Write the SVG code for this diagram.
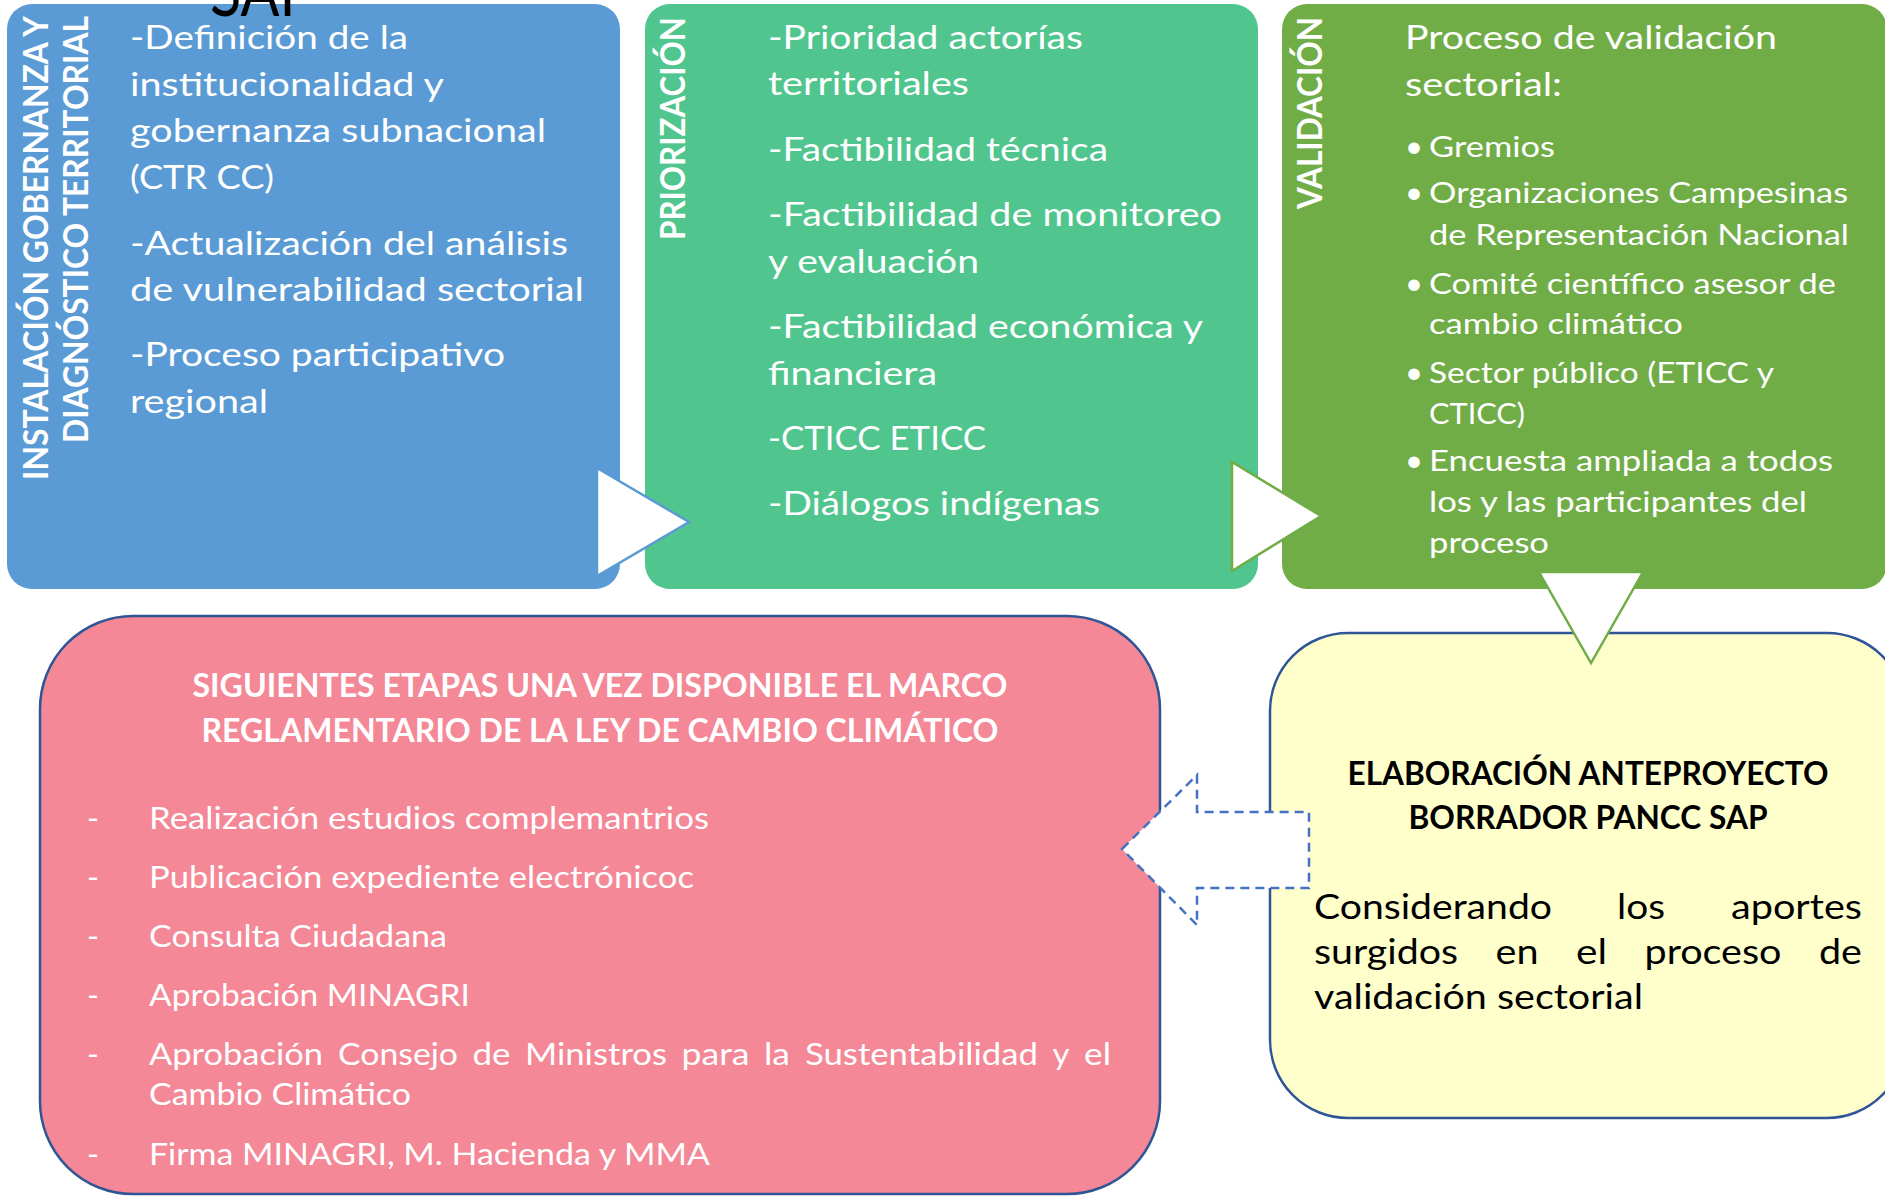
<svg xmlns="http://www.w3.org/2000/svg" width="1885" height="1197" viewBox="0 0 1885 1197">
<style>
  text { font-family: Lato, "Open Sans", "Noto Sans", sans-serif; }
  .w { fill: #ffffff; }
  .k { fill: #000000; }
  .bd { font-weight: bold; }
  .f32 { font-size: 32px; }
  .f28 { font-size: 28px; }
  .f30 { font-size: 30px; }
  .f35 { font-size: 35px; }
  .v34 { font-size: 34px; font-weight: bold; fill: #ffffff; }
  .tri { fill: #ffffff; stroke-width: 2.5; stroke-linejoin: miter; }
  .frame { stroke: #2f5597; stroke-width: 2.5; }
</style>
<rect width="1885" height="1197" fill="#ffffff"/>

<g id="node-instalacion">
  <rect x="7" y="4" width="613" height="585" rx="25" fill="#5b9bd5"/>
  <text class="v34" transform="translate(48,480) rotate(-90)" textLength="464" lengthAdjust="spacingAndGlyphs">INSTALACIÓN GOBERNANZA Y</text>
  <text class="v34" transform="translate(88,443) rotate(-90)" textLength="427" lengthAdjust="spacingAndGlyphs">DIAGNÓSTICO TERRITORIAL</text>
  <g class="w f32">
    <text x="130" y="49" textLength="278" lengthAdjust="spacingAndGlyphs">-Definición de la</text>
    <text x="130" y="96" textLength="314" lengthAdjust="spacingAndGlyphs">institucionalidad y</text>
    <text x="130" y="142" textLength="416" lengthAdjust="spacingAndGlyphs">gobernanza subnacional</text>
    <text x="130" y="189" textLength="144" lengthAdjust="spacingAndGlyphs">(CTR CC)</text>
    <text x="130" y="255" textLength="438" lengthAdjust="spacingAndGlyphs">-Actualización del análisis</text>
    <text x="130" y="301" textLength="454" lengthAdjust="spacingAndGlyphs">de vulnerabilidad sectorial</text>
    <text x="130" y="366" textLength="375" lengthAdjust="spacingAndGlyphs">-Proceso participativo</text>
    <text x="130" y="413" textLength="138" lengthAdjust="spacingAndGlyphs">regional</text>
  </g>
</g>

<g id="node-priorizacion">
  <rect x="645" y="4" width="613" height="585" rx="25" fill="#50c58d"/>
  <text class="v34" transform="translate(685,240) rotate(-90)" textLength="223" lengthAdjust="spacingAndGlyphs">PRIORIZACIÓN</text>
  <g class="w f32">
    <text x="768" y="49" textLength="315" lengthAdjust="spacingAndGlyphs">-Prioridad actorías</text>
    <text x="768" y="95" textLength="201" lengthAdjust="spacingAndGlyphs">territoriales</text>
    <text x="768" y="161" textLength="340" lengthAdjust="spacingAndGlyphs">-Factibilidad técnica</text>
    <text x="768" y="226" textLength="454" lengthAdjust="spacingAndGlyphs">-Factibilidad de monitoreo</text>
    <text x="768" y="273" textLength="211" lengthAdjust="spacingAndGlyphs">y evaluación</text>
    <text x="768" y="338" textLength="435" lengthAdjust="spacingAndGlyphs">-Factibilidad económica y</text>
    <text x="768" y="385" textLength="169" lengthAdjust="spacingAndGlyphs">financiera</text>
    <text x="768" y="450" textLength="218" lengthAdjust="spacingAndGlyphs">-CTICC ETICC</text>
    <text x="768" y="515" textLength="332" lengthAdjust="spacingAndGlyphs">-Diálogos indígenas</text>
  </g>
</g>

<g id="node-validacion">
  <rect x="1282" y="4" width="605" height="585" rx="25" fill="#70ad47"/>
  <text class="v34" transform="translate(1322,209) rotate(-90)" textLength="192" lengthAdjust="spacingAndGlyphs">VALIDACIÓN</text>
  <g class="w f32">
    <text x="1405" y="49" textLength="372" lengthAdjust="spacingAndGlyphs">Proceso de validación</text>
    <text x="1405" y="96" textLength="157" lengthAdjust="spacingAndGlyphs">sectorial:</text>
  </g>
  <g class="w f28">
    <text x="1405" y="157" font-size="31">•</text>
    <text x="1405" y="203" font-size="31">•</text>
    <text x="1405" y="294" font-size="31">•</text>
    <text x="1405" y="383" font-size="31">•</text>
    <text x="1405" y="471" font-size="31">•</text>
    <text x="1429" y="157" textLength="126" lengthAdjust="spacingAndGlyphs">Gremios</text>
    <text x="1429" y="203" textLength="419" lengthAdjust="spacingAndGlyphs">Organizaciones Campesinas</text>
    <text x="1429" y="245" textLength="420" lengthAdjust="spacingAndGlyphs">de Representación Nacional</text>
    <text x="1429" y="294" textLength="407" lengthAdjust="spacingAndGlyphs">Comité científico asesor de</text>
    <text x="1429" y="334" textLength="254" lengthAdjust="spacingAndGlyphs">cambio climático</text>
    <text x="1429" y="383" textLength="345" lengthAdjust="spacingAndGlyphs">Sector público (ETICC y</text>
    <text x="1429" y="424" textLength="96" lengthAdjust="spacingAndGlyphs">CTICC)</text>
    <text x="1429" y="471" textLength="404" lengthAdjust="spacingAndGlyphs">Encuesta ampliada a todos</text>
    <text x="1429" y="512" textLength="378" lengthAdjust="spacingAndGlyphs">los y las participantes del</text>
    <text x="1429" y="553" textLength="120" lengthAdjust="spacingAndGlyphs">proceso</text>
  </g>
</g>

<g id="node-siguientes">
  <rect class="frame" x="40" y="616" width="1120" height="578" rx="93" fill="#f48897"/>
  <g class="w f32 bd" text-anchor="middle">
    <text x="600" y="697" textLength="815" lengthAdjust="spacingAndGlyphs">SIGUIENTES ETAPAS UNA VEZ DISPONIBLE EL MARCO</text>
    <text x="600" y="742" textLength="797" lengthAdjust="spacingAndGlyphs">REGLAMENTARIO DE LA LEY DE CAMBIO CLIMÁTICO</text>
  </g>
  <g class="w f30">
    <text x="87" y="829" textLength="12" lengthAdjust="spacingAndGlyphs">-</text>
    <text x="87" y="888" textLength="12" lengthAdjust="spacingAndGlyphs">-</text>
    <text x="87" y="947" textLength="12" lengthAdjust="spacingAndGlyphs">-</text>
    <text x="87" y="1006" textLength="12" lengthAdjust="spacingAndGlyphs">-</text>
    <text x="87" y="1065" textLength="12" lengthAdjust="spacingAndGlyphs">-</text>
    <text x="87" y="1165" textLength="12" lengthAdjust="spacingAndGlyphs">-</text>
    <text x="149" y="829" textLength="560" lengthAdjust="spacingAndGlyphs">Realización estudios complemantrios</text>
    <text x="149" y="888" textLength="545" lengthAdjust="spacingAndGlyphs">Publicación expediente electrónicoc</text>
    <text x="149" y="947" textLength="298" lengthAdjust="spacingAndGlyphs">Consulta Ciudadana</text>
    <text x="149" y="1006" textLength="321" lengthAdjust="spacingAndGlyphs">Aprobación MINAGRI</text>
    <text x="149" y="1065" textLength="174" lengthAdjust="spacingAndGlyphs">Aprobación</text>
    <text x="338" y="1065" textLength="120" lengthAdjust="spacingAndGlyphs">Consejo</text>
    <text x="472.5" y="1065" textLength="38" lengthAdjust="spacingAndGlyphs">de</text>
    <text x="525" y="1065" textLength="142" lengthAdjust="spacingAndGlyphs">Ministros</text>
    <text x="681.5" y="1065" textLength="68" lengthAdjust="spacingAndGlyphs">para</text>
    <text x="764" y="1065" textLength="26" lengthAdjust="spacingAndGlyphs">la</text>
    <text x="805" y="1065" textLength="233" lengthAdjust="spacingAndGlyphs">Sustentabilidad</text>
    <text x="1052.5" y="1065" textLength="17" lengthAdjust="spacingAndGlyphs">y</text>
    <text x="1084" y="1065" textLength="27" lengthAdjust="spacingAndGlyphs">el</text>
    <text x="149" y="1105" textLength="262" lengthAdjust="spacingAndGlyphs">Cambio Climático</text>
    <text x="149" y="1165" textLength="561" lengthAdjust="spacingAndGlyphs">Firma MINAGRI, M. Hacienda y MMA</text>
  </g>
</g>

<g id="node-elaboracion">
  <rect class="frame" x="1270" y="633" width="635" height="485" rx="78" fill="#ffffcc"/>
  <g class="k f32 bd" text-anchor="middle">
    <text x="1588" y="785" textLength="481" lengthAdjust="spacingAndGlyphs">ELABORACIÓN ANTEPROYECTO</text>
    <text x="1588" y="829" textLength="359" lengthAdjust="spacingAndGlyphs">BORRADOR PANCC SAP</text>
  </g>
  <g class="k f35">
    <text x="1314" y="919" textLength="238" lengthAdjust="spacingAndGlyphs">Considerando</text>
    <text x="1617" y="919" textLength="48" lengthAdjust="spacingAndGlyphs">los</text>
    <text x="1731" y="919" textLength="131" lengthAdjust="spacingAndGlyphs">aportes</text>
    <text x="1314" y="964" textLength="144" lengthAdjust="spacingAndGlyphs">surgidos</text>
    <text x="1495.5" y="964" textLength="43" lengthAdjust="spacingAndGlyphs">en</text>
    <text x="1576" y="964" textLength="31" lengthAdjust="spacingAndGlyphs">el</text>
    <text x="1644.5" y="964" textLength="137" lengthAdjust="spacingAndGlyphs">proceso</text>
    <text x="1819" y="964" textLength="43" lengthAdjust="spacingAndGlyphs">de</text>
    <text x="1314" y="1009" textLength="329" lengthAdjust="spacingAndGlyphs">validación sectorial</text>
  </g>
</g>

<text class="k" x="210" y="16" font-size="70" textLength="104" lengthAdjust="spacingAndGlyphs">SAP</text>

<g id="connectors">
  <polygon class="tri" stroke="#5b9bd5" points="597,468 689,522 597,576"/>
  <polygon class="tri" stroke="#70ad47" points="1232,462 1321,516 1232,571"/>
  <polygon class="tri" stroke="#70ad47" points="1539,572 1643,572 1591,663"/>
  <polygon points="1122,849 1197,775 1197,812 1309,812 1309,888 1197,888 1197,925" fill="#ffffff" stroke="#4472c4" stroke-width="2.5" stroke-dasharray="9 6"/>
</g>
</svg>
